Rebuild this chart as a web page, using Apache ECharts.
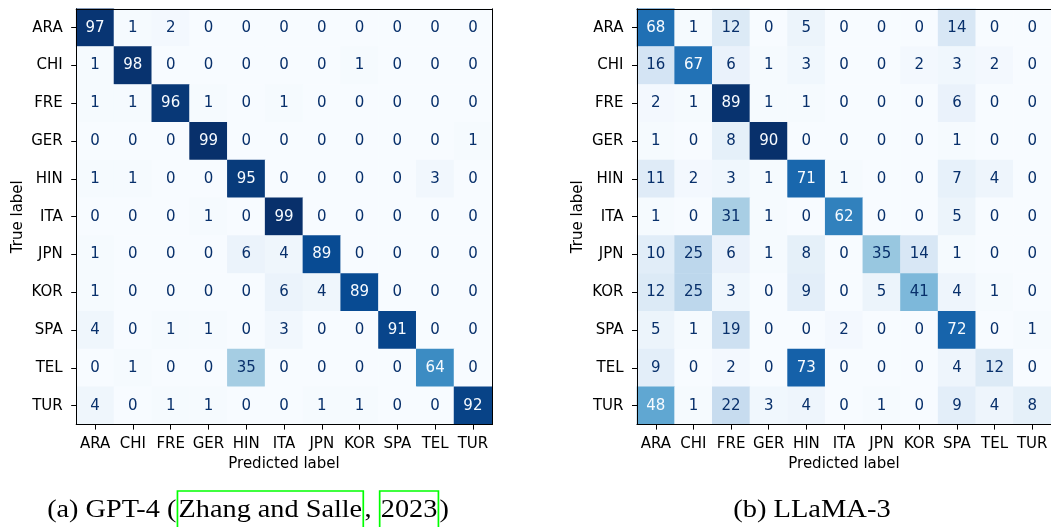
<!DOCTYPE html>
<html>
<head>
<meta charset="utf-8">
<script src="https://cdn.jsdelivr.net/npm/echarts@6/dist/echarts.min.js"></script>
<style>
html,body{margin:0;padding:0;background:#fff;}
#c{width:1051px;height:527px;}
</style>
</head>
<body>
<div id="c"></div>
<script>
// ---- data ----
const labels = ['ARA','CHI','FRE','GER','HIN','ITA','JPN','KOR','SPA','TEL','TUR'];
const gpt4Matrix = [
  [97, 1, 2, 0, 0, 0, 0, 0, 0, 0, 0],
  [ 1,98, 0, 0, 0, 0, 0, 1, 0, 0, 0],
  [ 1, 1,96, 1, 0, 1, 0, 0, 0, 0, 0],
  [ 0, 0, 0,99, 0, 0, 0, 0, 0, 0, 1],
  [ 1, 1, 0, 0,95, 0, 0, 0, 0, 3, 0],
  [ 0, 0, 0, 1, 0,99, 0, 0, 0, 0, 0],
  [ 1, 0, 0, 0, 6, 4,89, 0, 0, 0, 0],
  [ 1, 0, 0, 0, 0, 6, 4,89, 0, 0, 0],
  [ 4, 0, 1, 1, 0, 3, 0, 0,91, 0, 0],
  [ 0, 1, 0, 0,35, 0, 0, 0, 0,64, 0],
  [ 4, 0, 1, 1, 0, 0, 1, 1, 0, 0,92]
];
const llamaMatrix = [
  [68, 1,12, 0, 5, 0, 0, 0,14, 0, 0],
  [16,67, 6, 1, 3, 0, 0, 2, 3, 2, 0],
  [ 2, 1,89, 1, 1, 0, 0, 0, 6, 0, 0],
  [ 1, 0, 8,90, 0, 0, 0, 0, 1, 0, 0],
  [11, 2, 3, 1,71, 1, 0, 0, 7, 4, 0],
  [ 1, 0,31, 1, 0,62, 0, 0, 5, 0, 0],
  [10,25, 6, 1, 8, 0,35,14, 1, 0, 0],
  [12,25, 3, 0, 9, 0, 5,41, 4, 1, 0],
  [ 5, 1,19, 0, 0, 2, 0, 0,72, 0, 1],
  [ 9, 0, 2, 0,73, 0, 0, 0, 4,12, 0],
  [48, 1,22, 3, 4, 0, 1, 0, 9, 4, 8]
];
const xAxisTitle = 'Predicted label';
const yAxisTitle = 'True label';
const captionA = '{a|(a) GPT-4 (}{z|Zhang and Salle}{p|, }{z|2023}{p|)}';
const captionB = '{p|(b) LLaMA-3}';

// ---- styling ----
const blues = ['#f7fbff','#deebf7','#c6dbef','#9ecae1','#6baed6','#4292c6','#2171b5','#08519c','#08306b'];
const FONT = 'DejaVu Sans';
const FS = 15;

function toData(m){
  let mx = 0, mn = Infinity;
  m.forEach(r => r.forEach(v => { mx = Math.max(mx, v); mn = Math.min(mn, v); }));
  const thr = (mx + mn) / 2;
  const out = [];
  m.forEach((row, i) => row.forEach((v, j) => {
    out.push({value: [j, i, v], label: {color: v > thr ? blues[0] : blues[8]}});
  }));
  return {data: out, max: mx, min: mn};
}
const d0 = toData(gpt4Matrix);
const d1 = toData(llamaMatrix);

const grids = [
  {left: 76.2, top: 8.8, width: 415.6, height: 415.8},
  {left: 637, top: 8.8, width: 415.6, height: 415.8}
];

function xAx(gi){
  return {
    type: 'category', data: labels, gridIndex: gi, position: 'bottom', z: 10,
    axisLine: {show: true, lineStyle: {color: '#000', width: 1}},
    axisTick: {show: true, alignWithLabel: true, length: 5, lineStyle: {color: '#000'}},
    axisLabel: {color: '#000', fontFamily: FONT, fontSize: FS, margin: 12, interval: 0},
    splitLine: {show: false},
    name: xAxisTitle, nameLocation: 'middle', nameGap: 30,
    nameTextStyle: {color: '#000', fontFamily: FONT, fontSize: FS}
  };
}
function xTop(gi){
  return {type: 'category', data: labels, gridIndex: gi, position: 'top', z: 10,
    axisLine: {show: true, lineStyle: {color: '#000', width: 1}},
    axisTick: {show: false}, axisLabel: {show: false}, splitLine: {show: false}};
}
function yAx(gi){
  return {
    type: 'category', data: labels, gridIndex: gi, inverse: true, position: 'left', z: 10,
    axisLine: {show: true, lineStyle: {color: '#000', width: 1}},
    axisTick: {show: true, alignWithLabel: true, length: 5, lineStyle: {color: '#000'}},
    axisLabel: {color: '#000', fontFamily: FONT, fontSize: FS, margin: 13.5, interval: 0},
    splitLine: {show: false},
    name: yAxisTitle, nameLocation: 'middle', nameGap: 51,
    nameTextStyle: {color: '#000', fontFamily: FONT, fontSize: FS}
  };
}
function yRight(gi){
  return {type: 'category', data: labels, gridIndex: gi, inverse: true, position: 'right', z: 10,
    axisLine: {show: true, lineStyle: {color: '#000', width: 1}},
    axisTick: {show: false}, axisLabel: {show: false}, splitLine: {show: false}};
}

function series(xi, yi, d){
  return {
    type: 'heatmap', xAxisIndex: xi, yAxisIndex: yi, data: d.data,
    label: {show: true, fontFamily: FONT, fontSize: FS, formatter: p => String(p.value[2])},
    itemStyle: {borderWidth: 0},
    emphasis: {disabled: true},
    progressive: 0
  };
}

const capFont = 'Liberation Serif';
const capSize = 25;
const capScale = 1.13;
const plainStyle = {fontFamily: capFont, fontSize: capSize, fill: '#000', padding: [7, 1, 9, 1]};
const prefixStyle = Object.assign({}, plainStyle, {padding: [7, 1, 9, 1]});
const linkStyle = Object.assign({}, plainStyle, {borderColor: '#00ff00', borderWidth: 1.5});

const option = {
  backgroundColor: '#fff',
  animation: false,
  grid: grids,
  xAxis: [xAx(0), xTop(0), xAx(1), xTop(1)],
  yAxis: [yAx(0), yRight(0), yAx(1), yRight(1)],
  visualMap: [
    {show: false, seriesIndex: 0, min: d0.min, max: d0.max, inRange: {color: blues}},
    {show: false, seriesIndex: 1, min: d1.min, max: d1.max, inRange: {color: blues}}
  ],
  series: [series(0, 0, d0), series(2, 2, d1)],
  graphic: [
    {type: 'text', x: 46, y: 491, scaleX: capScale, z: 10,
     style: {text: captionA, fontFamily: capFont, fontSize: capSize, fill: '#000',
       rich: {a: prefixStyle, p: plainStyle, z: linkStyle}}},
    {type: 'text', x: 732, y: 491, scaleX: 1.14, z: 10,
     style: {text: captionB, fontFamily: capFont, fontSize: capSize, fill: '#000',
       rich: {p: plainStyle}}}
  ]
};

const chart = echarts.init(document.getElementById('c'), null, {renderer: 'canvas'});
chart.setOption(option);
</script>
</body>
</html>
